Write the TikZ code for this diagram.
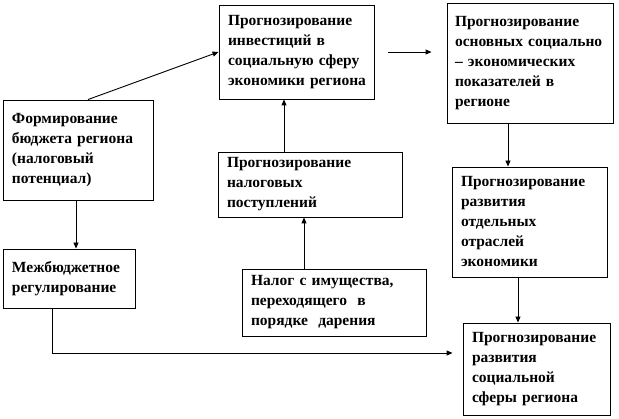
\documentclass[tikz,border=0pt]{standalone}
\usepackage{fontspec}
\setmainfont{Liberation Serif}[BoldFont={Liberation Serif Bold}]
\usetikzlibrary{arrows.meta}
\begin{document}
\begin{tikzpicture}[x=1pt,y=-1pt,line width=0.9pt,
  blok/.style={draw,align=left,inner xsep=9pt,inner ysep=0pt,
    font=\fontsize{15.5}{20}\selectfont\bfseries},
  strel/.style={-{Triangle[length=6pt,width=5pt]}}]
\useasboundingbox (0,0) rectangle (619,419);

\node[blok,minimum width=150pt,minimum height=100pt,text width=132pt] (A) at (78,150)
  {Формирование\\\mbox{бюджета региона}\\(налоговый\\потенциал)\\[-2pt]};
\node[blok,minimum width=132pt,minimum height=59pt,text width=114pt] (B) at (69,278.5)
  {Межбюджетное\\регулирование};
\node[blok,minimum width=155pt,minimum height=94pt,text width=137pt] (C) at (296.5,52)
  {Прогнозирование\\инвестиций в\\\mbox{социальную сферу}\\\mbox{экономики региона}};
\node[blok,minimum width=166pt,minimum height=120pt,text width=150pt,inner xsep=8pt] (D) at (530,63)
  {Прогнозирование\\\mbox{основных социально}\\\mbox{– экономических}\\показателей в\\регионе\\[10pt]};
\node[blok,minimum width=155pt,minimum height=110pt,text width=137pt] (E) at (529.5,222)
  {Прогнозирование\\развития\\отдельных\\отраслей\\экономики};
\node[blok,minimum width=147pt,minimum height=92pt,text width=129pt] (F) at (536.5,369)
  {Прогнозирование\\развития\\социальной\\сферы региона};
\node[blok,minimum width=184pt,minimum height=65pt,text width=166pt] (G) at (310,184.5)
  {Прогнозирование\\налоговых\\поступлений};
\node[blok,minimum width=184pt,minimum height=67pt,text width=166pt] (H) at (334,302.5)
  {Налог с имущества,\\переходящего~~в\\порядке~~дарения};

\draw[strel] ([xshift=10pt]A.north) -- (C.west);
\draw[strel] ([xshift=14pt]C.east) -- ([xshift=-15pt]C.east -| D.west);
\draw[strel] ([xshift=-22pt]D.south) -- ([xshift=-22pt]D.south |- E.north);
\draw[strel] ([xshift=-11.5pt]E.south) -- ([xshift=-11.5pt]E.south |- F.north);
\draw[strel] ([xshift=-2pt]A.south) -- ([xshift=-2pt]A.south |- B.north);
\draw[strel] ([xshift=-17pt]B.south) |- ([xshift=-10pt,yshift=16pt]F.west);
\draw[strel] ([xshift=-26pt]G.north) -- ([xshift=-26pt]G.north |- C.south);
\draw[strel] ([xshift=-30pt]H.north) -- ([xshift=-30pt]H.north |- G.south);
\end{tikzpicture}
\end{document}
